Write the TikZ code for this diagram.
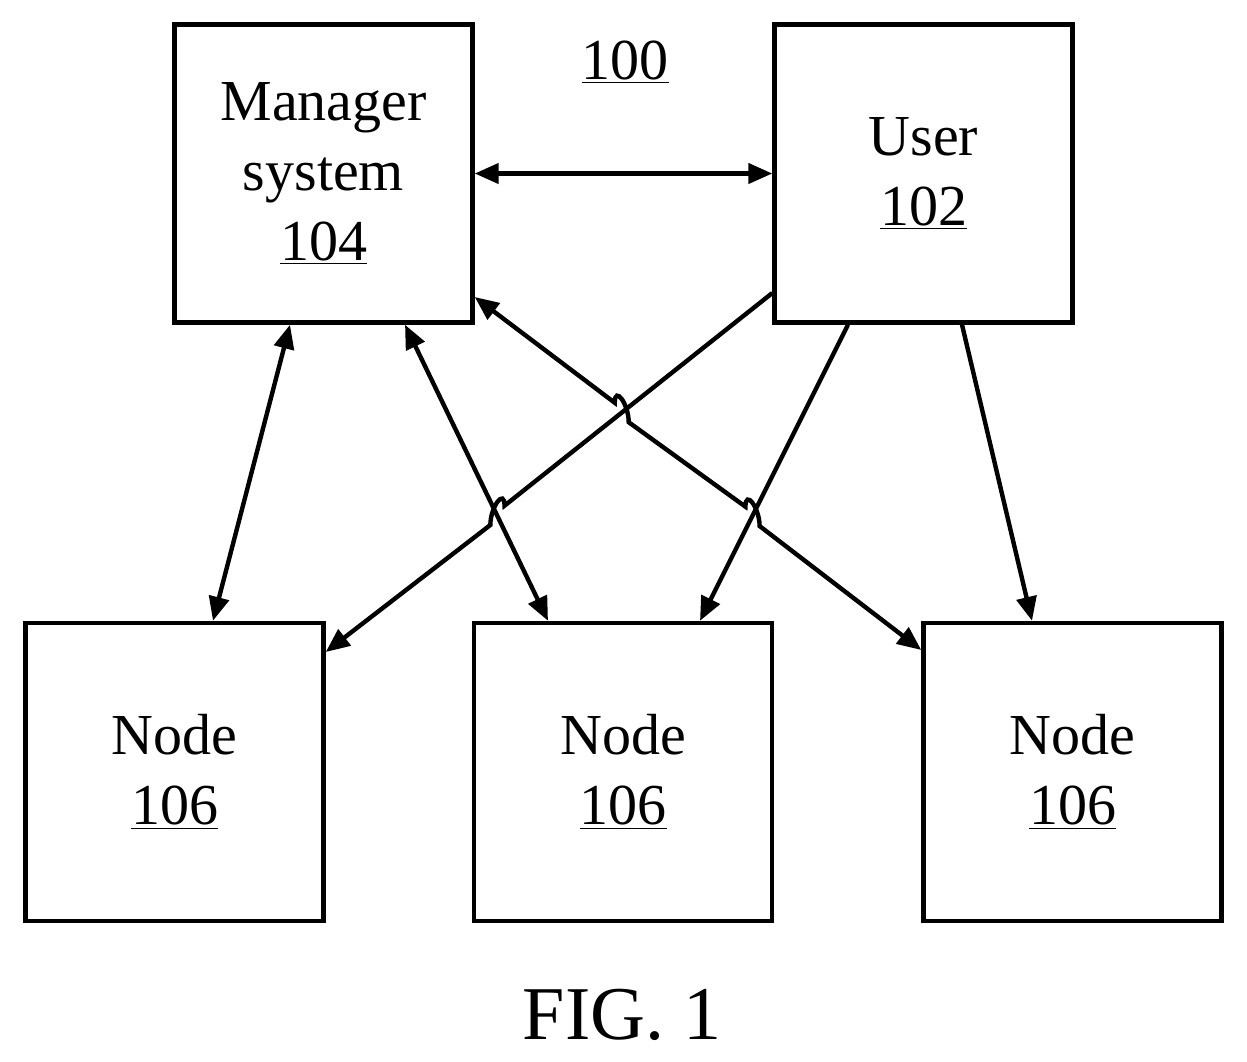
\documentclass[tikz,border=0pt]{standalone}
\usepackage{fontspec}
\setmainfont{Liberation Serif}
\usetikzlibrary{arrows.meta,calc}
\tikzstyle{block}=[draw, line width=2.2pt, minimum size=149pt, inner sep=0, align=center,
                   font=\fontsize{29}{35}\selectfont]
\tikzstyle{link}=[line width=2.2pt, >={Triangle[length=12pt,width=10pt]}]
\begin{document}
\begin{tikzpicture}[x=0.5pt, y=-0.5pt]
        \useasboundingbox (0,0) rectangle (1247,1061);
        \node[block] (man) at (323.5,173.5) {Manager\\system\\\underline{104}};
        \node[block] (usr) at (923.5,173.5) {User\\\underline{102}};
        \node[block] (n1) at (174.5,772) {Node\\\underline{106}};
        \node[block] (n2) at (623,772) {Node\\\underline{106}};
        \node[block] (n3) at (1072.5,772) {Node\\\underline{106}};
        \node[font=\fontsize{29}{35}\selectfont] (sys) at (625,62) {\underline{100}};
        \node[font=\fontsize{38}{44}\selectfont] (fig) at (622,1015) {FIG. 1};
        % crossing points
        \coordinate (x1) at (621,413);
        \coordinate (x2) at (497,515);
        \coordinate (x3) at (753,516);
        \draw[link, <->] (man.east) -- (usr.west);
        \draw[link, <->] ($(man.south)+(-33.5,0)$) -- ($(n1.north)+(38.5,0)$);
        \draw[link, <->] ($(man.south)+(81.5,0)$) -- ($(n2.north)+(-75,0)$);
        \draw[link, <->] ($(man.east)+(0,123.5)$) -- ($(x1)!6pt!(man.east)$)
            .. controls +(0,-18) and +(0,-18) .. ($(x1)!6pt!(n3.west)$)
            -- ($(x3)!6pt!(man.east)$)
            .. controls +(0,-18) and +(0,-18) .. ($(x3)!6pt!(n3.west)$)
            -- ($(n3.west)+(0,-122)$);
        \draw[link, ->] ($(usr.west)+(0,119.5)$) -- ($(x2)!6pt!(usr.west)$)
            .. controls +(0,-18) and +(0,-18) .. ($(x2)!6pt!(n1.east)$)
            -- ($(n1.east)+(0,-120)$);
        \draw[link, ->] ($(usr.south)+(-75.5,0)$) -- ($(n2.north)+(77,0)$);
        \draw[link, ->] ($(usr.south)+(38.5,0)$) -- ($(n3.north)+(-40.5,0)$);
\end{tikzpicture}
\end{document}
